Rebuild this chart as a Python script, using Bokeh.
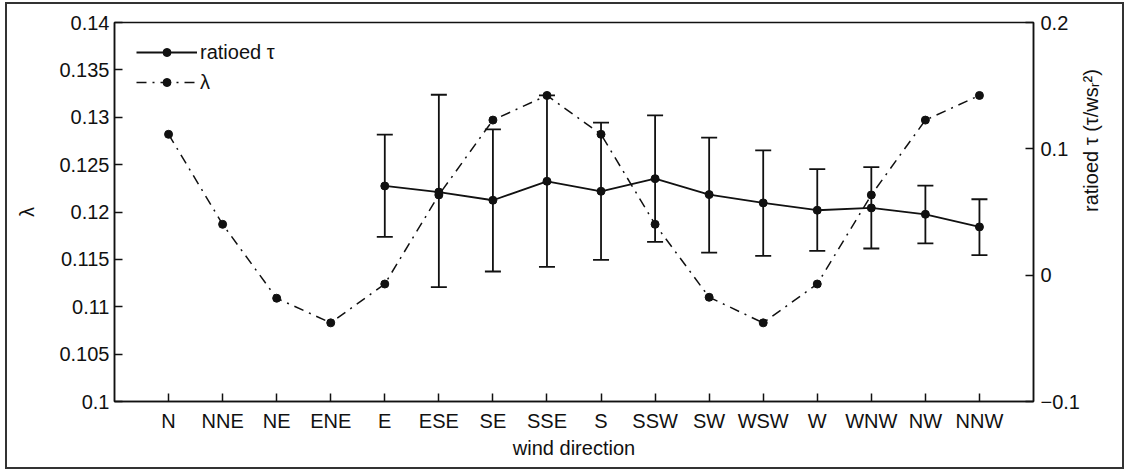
import math
from bokeh.plotting import figure
from bokeh.layouts import column
from bokeh.models import (ColumnDataSource, Range1d, LinearAxis, FixedTicker, Whisker,
                          TeeHead, Legend, LegendItem)
from bokeh.embed import file_html
from bokeh.resources import INLINE

# ---------------- data ----------------
directions = ["N", "NNE", "NE", "ENE", "E", "ESE", "SE", "SSE",
              "S", "SSW", "SW", "WSW", "W", "WNW", "NW", "NNW"]
lam = [0.1282, 0.1187, 0.1109, 0.1083, 0.1124, 0.1218, 0.1297, 0.1323,
       0.1282, 0.1187, 0.1110, 0.1083, 0.1124, 0.1218, 0.1297, 0.1323]

tau_dirs = ["E", "ESE", "SE", "SSE", "S", "SSW", "SW", "WSW", "W", "WNW", "NW", "NNW"]
tau = [0.0706, 0.0658, 0.0593, 0.0743, 0.0664, 0.0764,
       0.0638, 0.0572, 0.0514, 0.0532, 0.0482, 0.0382]
tau_upper = [0.1112, 0.1428, 0.1154, 0.1423, 0.1207, 0.1265,
             0.1089, 0.0988, 0.0840, 0.0856, 0.0709, 0.0601]
tau_lower = [0.0303, -0.0095, 0.0029, 0.0066, 0.0121, 0.0263,
             0.0179, 0.0153, 0.0192, 0.0211, 0.0251, 0.0158]

lam_ticks = [0.1, 0.105, 0.11, 0.115, 0.12, 0.125, 0.13, 0.135, 0.14]
lam_tick_labels = ["0.1", "0.105", "0.11", "0.115", "0.12", "0.125", "0.13", "0.135", "0.14"]
tau_ticks = [-0.1, 0, 0.1, 0.2]
tau_tick_labels = ["\u22120.1", "0", "0.1", "0.2"]

# ---------------- sources ----------------
x_lam = [directions.index(d) + 1 for d in directions]
x_tau = [directions.index(d) + 1 for d in tau_dirs]
lam_src = ColumnDataSource(dict(x=x_lam, y=lam))
tau_src = ColumnDataSource(dict(x=x_tau, y=tau, upper=tau_upper, lower=tau_lower))

FONT = "Liberation Sans"
INK = "#111111"

# canvas placed inside a bordered box that starts at (5, 2) with a 2px border
OX, OY = 7, 4
p = figure(width=1115, height=463, output_backend="svg", toolbar_location=None,
           x_range=Range1d(0, 17), y_range=Range1d(0.1, 0.14),
           min_border_left=114 - OX, min_border_right=1122 - 1033,
           min_border_top=22 - OY, min_border_bottom=467 - 401)
p.extra_y_ranges = {"tau": Range1d(-0.1, 0.2)}
p.xgrid.visible = False
p.ygrid.visible = False
p.outline_line_color = INK
p.outline_line_width = 1.5
p.background_fill_color = "white"
p.border_fill_color = "white"

def style_axis(ax):
    ax.major_tick_in = 8
    ax.major_tick_out = 0
    ax.minor_tick_in = 0
    ax.minor_tick_out = 0
    ax.axis_line_color = INK
    ax.axis_line_width = 1.5
    ax.major_tick_line_color = INK
    ax.major_tick_line_width = 1.5
    ax.major_label_text_font = FONT
    ax.major_label_text_font_size = "20px"
    ax.major_label_text_color = INK
    ax.axis_label_text_font = FONT
    ax.axis_label_text_font_size = "20px"
    ax.axis_label_text_font_style = "normal"
    ax.axis_label_text_color = INK

# x axis
xa = p.xaxis[0]
style_axis(xa)
xa.ticker = FixedTicker(ticks=x_lam)
xa.major_label_overrides = {i: d for i, d in zip(x_lam, directions)}
xa.axis_label = "wind direction"
xa.major_label_standoff = 8
xa.axis_label_standoff = 2

# left axis
ya = p.yaxis[0]
style_axis(ya)
ya.ticker = FixedTicker(ticks=lam_ticks)
ya.major_label_overrides = {t: s for t, s in zip(lam_ticks, lam_tick_labels)}
ya.axis_label = "\u03bb"
ya.major_label_standoff = 5
ya.axis_label_standoff = 18

# right axis
ra = LinearAxis(y_range_name="tau", ticker=FixedTicker(ticks=tau_ticks))
style_axis(ra)
ra.major_label_overrides = {t: s for t, s in zip(tau_ticks, tau_tick_labels)}
ra.axis_label = "ratioed \u03c4 (\u03c4/ws\u1d63\u00b2)"
ra.major_label_standoff = 7
ra.axis_label_standoff = 8
ra.axis_label_orientation = math.pi / 2
p.add_layout(ra, "right")

# ---------------- glyphs ----------------
lam_line = p.line("x", "y", source=lam_src, line_color=INK, line_width=1.5,
                  line_dash="10 6 2 6")
lam_pts = p.scatter("x", "y", source=lam_src, size=8, marker="circle",
                    fill_color=INK, line_color=INK)

tau_line = p.line("x", "y", source=tau_src, y_range_name="tau", line_color=INK,
                  line_width=1.8)
tau_pts = p.scatter("x", "y", source=tau_src, y_range_name="tau", size=8,
                    marker="circle", fill_color=INK, line_color=INK)

wh = Whisker(base="x", upper="upper", lower="lower", source=tau_src,
             y_range_name="tau", dimension="height", line_color=INK, line_width=1.8,
             upper_head=TeeHead(size=16, line_color=INK, line_width=1.8),
             lower_head=TeeHead(size=16, line_color=INK, line_width=1.8))
p.add_layout(wh)

# ---------------- legend ----------------
legend = Legend(items=[LegendItem(label="ratioed \u03c4", renderers=[tau_line, tau_pts]),
                       LegendItem(label="\u03bb", renderers=[lam_line, lam_pts])],
                location=(22, 304), orientation="vertical",
                glyph_width=61, glyph_height=20, label_height=30, spacing=0,
                padding=0, margin=0, label_standoff=3,
                label_text_font=FONT, label_text_font_size="20px",
                label_text_color=INK,
                border_line_alpha=0, background_fill_alpha=0)
p.add_layout(legend)

page = column(p, styles={"border": "2px solid #333333", "margin-left": "5px",
                         "margin-top": "2px", "background-color": "white"})

open("out.html", "w").write(file_html(page, INLINE))
